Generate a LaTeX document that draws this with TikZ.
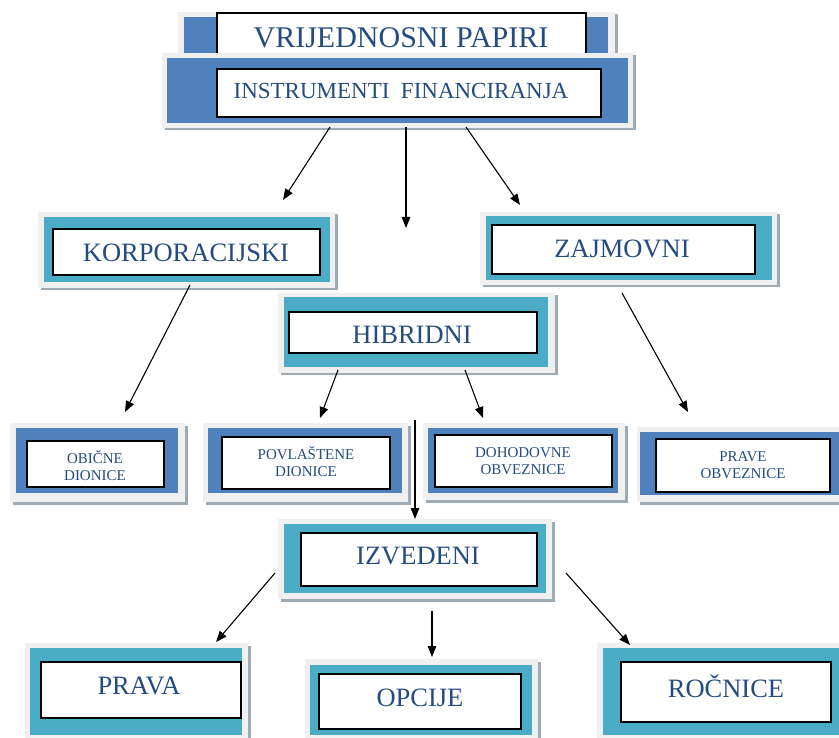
\documentclass[tikz,border=0pt]{standalone}
\usepackage{fontspec}
\setmainfont{Liberation Serif}
\usetikzlibrary{arrows.meta,fit,calc,shadows}
\definecolor{boxblue}{RGB}{79,129,189}
\definecolor{boxteal}{RGB}{75,172,198}
\definecolor{framegray}{RGB}{240,240,240}
\definecolor{shadowgray}{RGB}{158,170,180}
\definecolor{textblue}{RGB}{36,76,128}
\newcommand{\fontA}{\fontsize{30}{36}\selectfont}
\newcommand{\fontB}{\fontsize{23}{28}\selectfont}
\newcommand{\fontC}{\fontsize{26.5}{32}\selectfont}
\newcommand{\fontD}{\fontsize{15}{17}\selectfont}
\tikzset{
  boxframe/.style={fill=framegray,inner sep=0pt,outer sep=0pt,
    drop shadow={shadow xshift=2.5pt,shadow yshift=-2.5pt,fill=shadowgray,opacity=1}},
  colband/.style={inner sep=0pt,outer sep=0pt},
  inbox/.style={draw=black,line width=1.2pt,fill=white,inner sep=0pt,outer sep=0pt},
  label/.style={text=textblue,align=center,inner sep=0pt},
  arr/.style={line width=1.1pt,-{Triangle[length=11pt,width=8.5pt]}},
}

\begin{document}
\begin{tikzpicture}[x=1pt,y=-1pt]
  \useasboundingbox[fill=white] (0,0) rectangle (839,738);
  \node[boxframe,fit={(178,12) (615,60)}] (vp) {};
  \node[colband,fill=boxblue,fit={(184,17) (608,60)}] {};
  \node[inbox,fit={(217,13) (586,63)}] (vpin) {};
  \node[label,font=\fontA] (vpt) at (401,38) {VRIJEDNOSNI PAPIRI};
  \node[boxframe,fit={(162,53) (633,128)}] (inst) {};
  \node[colband,fill=boxblue,fit={(167,58) (628,123)}] {};
  \node[inbox,fit={(217,69) (601,117)}] (instin) {};
  \node[label,font=\fontB] (instt) at (401,91) {INSTRUMENTI\ \ FINANCIRANJA};
  \node[boxframe,fit={(38,212) (335,288)}] (korp) {};
  \node[colband,fill=boxteal,fit={(44,217) (330,282)}] {};
  \node[inbox,fit={(53,229) (320,275)}] (korpin) {};
  \node[label,font=\fontC] (korpt) at (186,253) {KORPORACIJSKI};
  \node[boxframe,fit={(480,212) (777,285)}] (zajm) {};
  \node[colband,fill=boxteal,fit={(486,216) (772,280)}] {};
  \node[inbox,fit={(492,225) (755,274)}] (zajmin) {};
  \node[label,font=\fontC] (zajmt) at (622,249) {ZAJMOVNI};
  \node[boxframe,fit={(278,293) (555,373)}] (hibr) {};
  \node[colband,fill=boxteal,fit={(284,297) (548,367)}] {};
  \node[inbox,fit={(289,312) (537,353)}] (hibrin) {};
  \node[label,font=\fontC] (hibrt) at (412,335) {HIBRIDNI};
  \node[boxframe,fit={(10,423) (185,502)}] (obic) {};
  \node[colband,fill=boxblue,fit={(16,428) (178,493)}] {};
  \node[inbox,fit={(27,441) (164,487)}] (obicin) {};
  \node[label,font=\fontD] (obict) at (95,466) {OBIČNE\\DIONICE};
  \node[boxframe,fit={(203,423) (408,502)}] (povl) {};
  \node[colband,fill=boxblue,fit={(208,428) (402,493)}] {};
  \node[inbox,fit={(222,437) (390,489)}] (povlin) {};
  \node[label,font=\fontD] (povlt) at (306,462) {POVLAŠTENE\\DIONICE};
  \node[boxframe,fit={(423,423) (625,500)}] (doho) {};
  \node[colband,fill=boxblue,fit={(428,428) (618,493)}] {};
  \node[inbox,fit={(435,435) (612,487)}] (dohoin) {};
  \node[label,font=\fontD] (dohot) at (523,461) {DOHODOVNE\\OBVEZNICE};
  \node[boxframe,fit={(637,427) (841,502)}] (prave) {};
  \node[colband,fill=boxblue,fit={(640,432) (841,495)}] {};
  \node[inbox,fit={(656,439) (830,492)}] (pravein) {};
  \node[label,font=\fontD] (pravet) at (743,465) {PRAVE\\OBVEZNICE};
  \node[boxframe,fit={(278,519) (552,599)}] (izv) {};
  \node[colband,fill=boxteal,fit={(284,524) (546,593)}] {};
  \node[inbox,fit={(301,533) (537,586)}] (izvin) {};
  \node[label,font=\fontC] (izvt) at (418,556) {IZVEDENI};
  \node[boxframe,fit={(25,643) (248,740)}] (prava) {};
  \node[colband,fill=boxteal,fit={(30,648) (242,735)}] {};
  \node[inbox,fit={(41,662) (241,718)}] (pravain) {};
  \node[label,font=\fontC] (pravat) at (139,686) {PRAVA};
  \node[boxframe,fit={(305,659) (538,740)}] (opc) {};
  \node[colband,fill=boxteal,fit={(310,665) (532,735)}] {};
  \node[inbox,fit={(319,674) (521,729)}] (opcin) {};
  \node[label,font=\fontC] (opct) at (420,698) {OPCIJE};
  \node[boxframe,fit={(597,643) (841,740)}] (rocn) {};
  \node[colband,fill=boxteal,fit={(603,648) (841,735)}] {};
  \node[inbox,fit={(621,662) (831,722)}] (rocnin) {};
  \node[label,font=\fontC] (rocnt) at (726,686) {ROČNICE};
  \coordinate (gap1) at (406,228);
  \coordinate (gap2) at (415,420);
  \draw[arr] ($(inst.south)+(-67.5,-1)$) -- ($(korp.north)+(96.5,-12)$);
  \draw[arr] ($(inst.south)+(8.5,-1)$) -- (gap1);
  \draw[arr] ($(inst.south)+(68.5,-1)$) -- ($(zajm.north)+(-108.5,-7)$);
  \draw[arr] ($(korp.south)+(3.5,-3)$) -- ($(obic.north)+(27.5,-11)$);
  \draw[arr] ($(zajm.south)+(-6.5,8)$) -- ($(prave.north)+(-51,-15)$);
  \draw[arr] ($(hibr.south)+(-78.5,-3)$) -- ($(povl.north)+(14.5,-5)$);
  \draw[arr] ($(hibr.south)+(48.5,-3)$) -- ($(doho.north)+(-41,-5)$);
  \draw[arr] (gap2) -- (izv.north);
  \draw[arr] ($(izv.west)+(-3,14)$) -- ($(prava.north)+(79.5,-1)$);
  \draw[arr] ($(izv.south)+(17,12)$) -- ($(opc.north)+(10.5,-2)$);
  \draw[arr] ($(izv.east)+(14,14)$) -- ($(rocn.north)+(-89,2)$);
\end{tikzpicture}
\end{document}
